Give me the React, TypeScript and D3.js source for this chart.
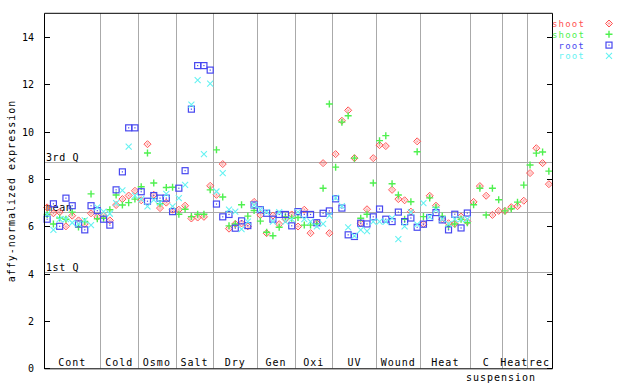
import React from "react";
import * as d3 from "d3";

const groupNames = ["Cont", "Cold", "Osmo", "Salt", "Dry", "Gen", "Oxi", "UV", "Wound", "Heat", "C", "Heat", "rec"];
const groupSizes = [9, 6, 6, 6, 7, 6, 6, 7, 7, 8, 5, 4, 4];

const shoot1 = [
  6.8, 6.55, 6.6, 6.0, 6.45, 6.25, 6.1, 6.55, 6.4,
  6.45, 6.25, 6.9, 7.15, 7.3, 7.5,
  7.1, 9.47, 7.33, 6.77, 7.0, 6.7,
  6.7, 6.87, 6.33, 6.37, 6.4, 7.71,
  7.33, 8.63, 5.9, 6.1, 6.12, 6.0, 7.03,
  6.48, 5.71, 6.45, 6.09, 6.3, 6.5,
  5.99, 6.7, 5.71, 6.13, 8.67, 5.71,
  9.05, 10.46, 10.9, 8.88, 6.13, 6.72, 8.88,
  9.43, 9.39, 7.54, 7.15, 7.1, 6.62, 9.59,
  6.09, 7.29, 6.87, 6.3, 6.13, 6.1, 6.41, 6.2,
  7.03, 7.7, 7.29, 6.48, 6.65,
  6.65, 6.81, 6.85, 7.08,
  8.25, 9.3, 8.67, 7.78,
];
const shoot2 = [
  6.5, 6.1, 6.35, 6.3, 6.6, 5.97, 6.2, 7.37, 6.32,
  6.34, 6.7, 7.32, 6.9, 7.0, 7.15,
  7.67, 9.1, 7.83, 6.95, 7.64, 7.65,
  6.51, 6.72, 6.41, 6.51, 6.51, 7.54,
  9.23, 7.24, 6.02, 6.1, 6.91, 6.43, 6.67,
  6.22, 5.75, 5.6, 5.96, 6.4, 6.34,
  6.37, 6.05, 6.05, 6.1, 7.61, 11.17,
  8.5, 10.4, 10.67, 8.88, 6.34, 6.51, 7.83,
  9.62, 9.83, 7.8, 7.32, 6.3, 7.04, 9.15,
  6.41, 7.2, 6.8, 6.43, 6.0, 6.1, 6.3, 6.15,
  6.91, 7.61, 6.48, 7.61, 7.12,
  6.65, 6.74, 7.02, 7.74,
  8.59, 9.09, 9.14, 8.33,
];
const root1 = [
  6.3, 6.95, 6.0, 7.19, 6.87, 6.1, 5.85, 6.87, 6.66,
  6.3, 6.05, 7.54, 8.3, 10.16, 10.16,
  7.46, 7.06, 7.3, 7.19, 7.19, 6.62,
  7.61, 8.35, 10.95, 12.79, 12.79, 12.6,
  6.94, 6.4, 6.5, 5.92, 6.23, 6.03, 6.9,
  6.7, 6.55, 6.3, 6.5, 6.5, 6.02,
  6.62, 6.5, 6.5, 6.15, 6.55, 6.65,
  7.16, 6.77, 5.64, 5.57, 6.13, 6.1, 6.4,
  6.73, 6.3, 6.2, 6.6, 6.2, 6.35, 5.96,
  6.09, 6.37, 6.58, 6.27, 5.85, 6.51, 5.93, 6.56,
  null, null, null, null, null, null, null, null, null, null, null, null, null,
];
const root2 = [
  6.5, 5.85, 6.3, 6.3, 6.15, 6.1, 6.25, 6.05, 6.8,
  6.62, 6.53, 6.98, 7.52, 9.37, 7.3,
  7.15, 6.84, 7.12, 7.0, 7.37, 6.84,
  7.19, 7.75, 11.14, 12.18, 9.05, 12.03,
  7.47, 8.25, 6.7, 6.62, 5.88, 6.2, 6.9,
  6.7, 6.6, 6.2, 6.6, 6.2, 6.3,
  6.6, 6.3, 6.2, 6.0, 6.1, 6.45,
  7.2, 6.85, 5.95, 5.6, 5.85, 5.8, 6.2,
  6.2, 6.2, 6.35, 5.46, 6.0, 6.6, 6.08,
  6.98, 6.4, 6.7, 6.3, 6.1, 6.3, 6.3, 6.3,
  null, null, null, null, null, null, null, null, null, null, null, null, null,
];

const yTicks = [0, 2, 4, 6, 8, 10, 12, 14];
const refLines = [
  { label: "3rd Q", value: 8.71 },
  { label: "mean", value: 6.6 },
  { label: "1st Q", value: 4.06 },
];

const seriesNames = ["shoot", "shoot", "root", "root"];
const seriesColors = ["#ff5252", "#4ff04f", "#4848f0", "#66f2f2"];
const seriesData = [shoot1, shoot2, root1, root2];

const FONT = "'DejaVu Sans Mono', monospace";

function Marker({ type, x, y, color }: { type: number; x: number; y: number; color: string }) {
  if (type === 0) {
    return (
      <g>
        <path d={`M${x},${y - 3.5}L${x + 3.5},${y}L${x},${y + 3.5}L${x - 3.5},${y}Z`} fill="none" stroke={color} strokeWidth={1} />
        <rect x={x - 0.5} y={y - 0.5} width={1} height={1} fill={color} />
        <path d={`M${x},${y - 1.8}L${x + 1.8},${y}L${x},${y + 1.8}L${x - 1.8},${y}Z`} fill="none" stroke={color} strokeWidth={0.6} opacity={0.6} />
      </g>
    );
  }
  if (type === 1) {
    return (
      <path d={`M${x - 3.5},${y}H${x + 3.5}M${x},${y - 3.5}V${y + 3.5}`} stroke={color} strokeWidth={1.4} />
    );
  }
  if (type === 2) {
    return (
      <g>
        <rect x={x - 3} y={y - 3} width={6} height={6} fill="none" stroke={color} strokeWidth={1.2} />
        <rect x={x - 0.6} y={y - 0.6} width={1.2} height={1.2} fill={color} />
      </g>
    );
  }
  return (
    <path d={`M${x - 3},${y - 3}L${x + 3},${y + 3}M${x + 3},${y - 3}L${x - 3},${y + 3}`} stroke={color} strokeWidth={1.1} />
  );
}

export default function App() {
  const W = 640, H = 384;
  const left = 44, right = 552, top = 13.3, bottom = 368.3;
  const n = shoot1.length;
  const x = d3.scaleLinear().domain([0, n]).range([left, right]);
  const y = d3.scaleLinear().domain([0, 15]).range([bottom, top]);

  const bounds: number[] = [];
  let acc = 0;
  groupSizes.forEach((s) => { bounds.push(acc); acc += s; });

  return (
    <svg width={W} height={H} style={{ position: "absolute", left: 0, top: 0, background: "#fff" }} fontFamily={FONT}>
      {bounds.slice(1).map((b, i) => (
        <line key={"v" + i} x1={Math.round(x(b)) + 0.5} x2={Math.round(x(b)) + 0.5} y1={top} y2={bottom} stroke="#aaaaaa" strokeWidth={1} />
      ))}
      {refLines.map((r) => (
        <g key={r.label}>
          <line x1={left} x2={right} y1={Math.round(y(r.value)) + 0.5} y2={Math.round(y(r.value)) + 0.5} stroke="#aaaaaa" strokeWidth={1} />
          <text x={left + 2} y={y(r.value) - 1.5} fontSize={10} letterSpacing={0.6} fill="#000">{r.label}</text>
        </g>
      ))}
      {seriesData.map((arr, si) =>
        arr.map((v, i) =>
          v == null ? null : (
            <Marker key={si + "-" + i} type={si} x={x(i + 0.5)} y={y(v)} color={seriesColors[si]} />
          )
        )
      )}
      <path d={`M${left + 0.5},${top}V${bottom + 0.5}H${right + 0.5}V${top}H${left + 0.5}`} fill="none" stroke="#000" strokeWidth={1} />
      {yTicks.map((t) => (
        <g key={"t" + t}>
          <line x1={left} x2={left + 6} y1={Math.round(y(t)) + 0.5} y2={Math.round(y(t)) + 0.5} stroke="#000" />
          <line x1={right - 5} x2={right} y1={Math.round(y(t)) + 0.5} y2={Math.round(y(t)) + 0.5} stroke="#000" />
          <text x={34} y={y(t) + 4} fontSize={10} textAnchor="end" fill="#000">{t}</text>
        </g>
      ))}
      {groupNames.map((g, i) => (
        <text key={"g" + i} x={(x(bounds[i]) + x(bounds[i] + groupSizes[i])) / 2} y={366} fontSize={10} letterSpacing={1} textAnchor="middle" fill="#000">{g}</text>
      ))}
      <text x={501} y={381} fontSize={10} letterSpacing={1} textAnchor="middle" fill="#000">suspension</text>
      <text transform={`translate(15,${191}) rotate(-90)`} fontSize={10} letterSpacing={1} textAnchor="middle" fill="#000">affy-normalized expression</text>
      {seriesNames.map((s, i) => (
        <g key={"l" + i}>
          <text x={585} y={27 + i * 10.8} fontSize={9} letterSpacing={1.2} textAnchor="end" fill={seriesColors[i]}>{s}</text>
          <Marker type={i} x={609} y={23.5 + i * 10.8} color={seriesColors[i]} />
        </g>
      ))}
    </svg>
  );
}
